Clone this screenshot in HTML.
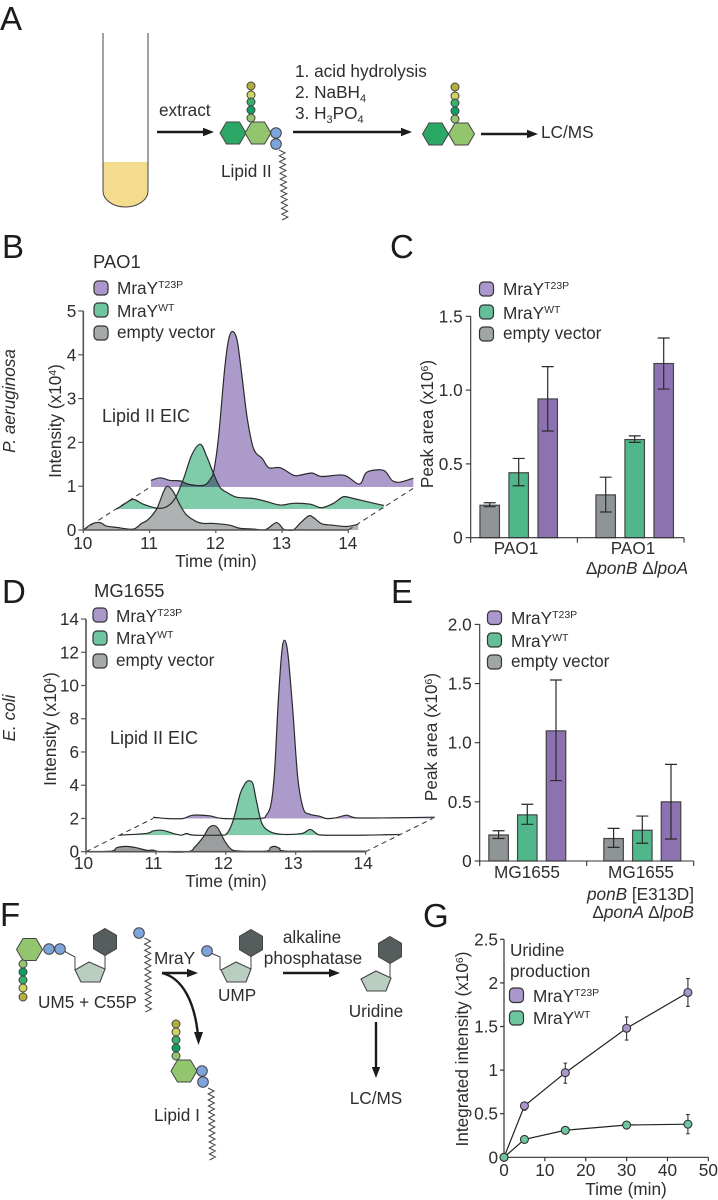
<!DOCTYPE html>
<html lang="en">
<head>
<meta charset="utf-8">
<title>Lipid II and uridine LC/MS figure</title>
<style>
html,body{margin:0;padding:0;background:#fff;}
body{width:718px;height:1200px;overflow:hidden;}
svg{display:block;font-family:"Liberation Sans",sans-serif;font-size:17.2px;fill:#2e2e2e;filter:blur(0.3px);}
.pl{font-size:33px;fill:#1c1c1c;}
.i{font-style:italic;}
.m{text-anchor:middle;}
</style>
</head>
<body>
<svg id="fig" width="718" height="1200" viewBox="0 0 718 1200" xmlns="http://www.w3.org/2000/svg">
  <g id="schem"></g>
  <g id="chartB"></g>
  <g id="chartD"></g>
  <g id="chartC"></g>
  <g id="chartE"></g>
  <g id="chartG"></g>

  <text class="pl" x="0" y="30">A</text>
  <text class="pl" x="2" y="258">B</text>
  <text class="pl" x="390" y="258">C</text>
  <text class="pl" x="2" y="603">D</text>
  <text class="pl" x="391" y="603">E</text>
  <text class="pl" x="0" y="926">F</text>
  <text class="pl" x="423" y="927">G</text>

  <text x="159" y="116">extract</text>
  <text x="221" y="177">Lipid II</text>
  <text x="295" y="77">1. acid hydrolysis</text>
  <text x="295" y="98">2. NaBH<tspan dy="4" font-size="11">4</tspan></text>
  <text x="295" y="119">3. H<tspan dy="4" font-size="11">3</tspan><tspan dy="-4">PO</tspan><tspan dy="4" font-size="11">4</tspan></text>
  <text x="541" y="138">LC/MS</text>

  <text x="93" y="268" font-size="18.4">PAO1</text>
  <g>
    <rect x="94" y="281" width="14" height="14" rx="4" fill="#ab97cc" stroke="#333" stroke-width="1.2"/>
    <rect x="94" y="303" width="14" height="14" rx="4" fill="#6ec6a0" stroke="#333" stroke-width="1.2"/>
    <rect x="94" y="326" width="14" height="14" rx="4" fill="#a5a9aa" stroke="#333" stroke-width="1.2"/>
    <text x="117" y="294">MraY<tspan dy="-6" font-size="10.5">T23P</tspan></text>
    <text x="117" y="317">MraY<tspan dy="-6" font-size="10.5">WT</tspan></text>
    <text x="117" y="338">empty vector</text>
  </g>
  <text x="102" y="422" font-size="18">Lipid II EIC</text>
  <text class="m" transform="translate(61,421) rotate(-90)">Intensity (x10<tspan dy="-5" font-size="10.5">4</tspan><tspan dy="5">)</tspan></text>
  <text class="m i" transform="translate(15,401) rotate(-90)">P. aeruginosa</text>
  <text class="m" x="216" y="567">Time (min)</text>

  <text x="94" y="597" font-size="18.4">MG1655</text>
  <g>
    <rect x="93" y="608" width="14" height="14" rx="4" fill="#ab97cc" stroke="#333" stroke-width="1.2"/>
    <rect x="93" y="631" width="14" height="14" rx="4" fill="#6ec6a0" stroke="#333" stroke-width="1.2"/>
    <rect x="93" y="654" width="14" height="14" rx="4" fill="#a5a9aa" stroke="#333" stroke-width="1.2"/>
    <text x="116" y="622">MraY<tspan dy="-6" font-size="10.5">T23P</tspan></text>
    <text x="116" y="644">MraY<tspan dy="-6" font-size="10.5">WT</tspan></text>
    <text x="116" y="666">empty vector</text>
  </g>
  <text x="110" y="744" font-size="18">Lipid II EIC</text>
  <text class="m" transform="translate(56,729) rotate(-90)">Intensity (x10<tspan dy="-5" font-size="10.5">4</tspan><tspan dy="5">)</tspan></text>
  <text class="m i" transform="translate(15,718) rotate(-90)">E. coli</text>
  <text class="m" x="226" y="887">Time (min)</text>

  <g>
    <rect x="479.5" y="282" width="14" height="14" rx="4" fill="#ab97cc" stroke="#333" stroke-width="1.2"/>
    <rect x="479.5" y="305" width="14" height="14" rx="4" fill="#63bf97" stroke="#333" stroke-width="1.2"/>
    <rect x="479.5" y="327" width="14" height="14" rx="4" fill="#a0a5a6" stroke="#333" stroke-width="1.2"/>
    <text x="503" y="295">MraY<tspan dy="-6" font-size="10.5">T23P</tspan></text>
    <text x="503" y="319">MraY<tspan dy="-6" font-size="10.5">WT</tspan></text>
    <text x="503" y="339">empty vector</text>
  </g>
  <text class="m" transform="translate(433,424) rotate(-90)">Peak area (x10<tspan dy="-5" font-size="10.5">6</tspan><tspan dy="5">)</tspan></text>
  <text class="m i" x="637" y="574"><tspan font-style="normal">Δ</tspan>ponB <tspan font-style="normal">Δ</tspan>lpoA</text>

  <g>
    <rect x="487.5" y="611" width="14" height="13.500" rx="4" fill="#ab97cc" stroke="#333" stroke-width="1.2"/>
    <rect x="487.5" y="633" width="14" height="14" rx="4" fill="#63bf97" stroke="#333" stroke-width="1.2"/>
    <rect x="487.5" y="655" width="14" height="14" rx="4" fill="#a0a5a6" stroke="#333" stroke-width="1.2"/>
    <text x="511" y="624">MraY<tspan dy="-6" font-size="10.5">T23P</tspan></text>
    <text x="511" y="647">MraY<tspan dy="-6" font-size="10.5">WT</tspan></text>
    <text x="511" y="667">empty vector</text>
  </g>
  <text class="m" transform="translate(437,737) rotate(-90)">Peak area (x10<tspan dy="-5" font-size="10.5">6</tspan><tspan dy="5">)</tspan></text>
  <text class="i" text-anchor="end" x="694" y="900">ponB <tspan font-style="normal">[E313D]</tspan></text>
  <text class="i" text-anchor="end" x="694" y="918"><tspan font-style="normal">Δ</tspan>ponA <tspan font-style="normal">Δ</tspan>lpoB</text>

  <text x="154" y="964">MraY</text>
  <text x="38" y="1008">UM5 + C55P</text>
  <text x="218" y="1001">UMP</text>
  <text class="m" x="312" y="943">alkaline</text>
  <text class="m" x="313" y="964">phosphatase</text>
  <text class="m" x="376" y="1017">Uridine</text>
  <text class="m" x="376" y="1104">LC/MS</text>
  <text x="154" y="1121">Lipid I</text>

  <text x="510" y="956">Uridine</text>
  <text x="510" y="977">production</text>
  <g>
    <rect x="509.5" y="988" width="14" height="14.500" rx="4" fill="#ab97cc" stroke="#333" stroke-width="1.2"/>
    <rect x="509.5" y="1011" width="14" height="14" rx="4" fill="#6ec6a0" stroke="#333" stroke-width="1.2"/>
    <text x="533" y="1002">MraY<tspan dy="-6" font-size="10.5">T23P</tspan></text>
    <text x="533" y="1024">MraY<tspan dy="-6" font-size="10.5">WT</tspan></text>
  </g>
  <text class="m" transform="translate(468,1049) rotate(-90)">Integrated intensity (x10<tspan dy="-5" font-size="10.5">6</tspan><tspan dy="5">)</tspan></text>
  <text class="m" x="626" y="1195">Time (min)</text>
</svg>

<script>
// ---------- Panel B data ----------
const bTimeTicks = [10, 11, 12, 13, 14];
const bIntensityTicks = [0, 1, 2, 3, 4, 5];
const bGrayTime = [10,10.13,10.25,10.35,10.5,10.75,10.88,10.98,11.11,11.21,11.27,11.36,11.46,11.56,11.71,11.81,11.96,12.21,12.36,12.57,12.72,12.79,12.92,13.02,13.07,13.17,13.27,13.4,13.47,13.6,13.77,13.97,14.15];
const bGrayIntensity = [0,.14,.17,.09,.06,.02,.15,.24,.49,.87,1,.87,.57,.34,.19,.15,.15,.11,.04,.02,0,.04,.17,.02,0,0,.15,.32,.29,.14,.11,.08,.13];
const bGreenTime = [10,10.13,10.25,10.4,10.6,10.75,10.88,11.01,11.13,11.26,11.36,11.46,11.56,11.66,11.81,12.06,12.26,12.47,12.67,12.92,13.09,13.27,13.42,13.57,13.77,14.03];
const bGreenIntensity = [0,.13,.22,.11,.02,.05,.24,.7,1.23,1.48,1.19,.81,.49,.38,.27,.24,.17,.09,.13,.11,.03,.13,.28,.24,.17,.08];
const bPurpleTime = [10.01,10.15,10.3,10.45,10.58,10.81,10.91,10.96,11.03,11.12,11.18,11.24,11.31,11.38,11.46,11.56,11.69,11.79,11.96,12.16,12.26,12.44,12.59,12.92,13.12,13.19,13.27,13.52,13.65,13.77,13.97];
const bPurpleIntensity = [.15,.21,.15,.14,.06,.04,.19,.38,1.14,2.66,3.35,3.55,3.35,2.58,1.6,.87,.65,.44,.44,.27,.27,.32,.24,.27,.08,.11,.34,.38,.15,.11,.2];

// ---------- Panel D data ----------
const dTimeTicks = [10, 11, 12, 13, 14];
const dIntensityTicks = [0, 2, 4, 6, 8, 10, 12, 14];
const dGrayTime = [10,10.37,10.44,10.58,10.72,10.87,10.96,11.06,11.46,11.56,11.68,11.75,11.82,11.89,11.99,12.08,12.2,12.58,12.64,12.7,12.77,12.85,13.54,14];
const dGrayIntensity = [0,.04,.24,.32,.24,.08,.1,0,0,.3,.9,1.4,1.58,1.4,.6,.14,.04,.04,.26,.32,.2,.04,.04,.04];
const dGreenTime = [10,10.38,10.48,10.62,10.76,10.88,10.95,11.05,11.43,11.53,11.62,11.72,11.79,11.84,11.9,11.95,12.03,12.15,12.34,12.6,12.72,12.81,12.91,13.53,14];
const dGreenIntensity = [0,.1,.26,.28,.1,0,.1,0,0,.1,.9,2.5,3.1,3.27,3.1,2.1,.7,.2,.04,.1,.34,.1,0,0,.04];
const dPurpleTime = [10,10.19,10.43,10.57,10.81,11,11.53,11.62,11.69,11.74,11.79,11.84,11.88,11.93,12,12.07,12.15,12.24,12.38,12.48,12.62,12.77,12.91,13.4,14.03];
const dPurpleIntensity = [.08,0,0,.2,.16,0,0,.2,.9,2.9,6.9,9.9,10.73,9.9,6.5,2.5,.6,.26,.14,0,.04,.2,.04,.04,.08];

// ---------- Panel C data ----------
const cGroups = ["PAO1", "PAO1"];
const cTicks = [0, 0.5, 1, 1.5];
const cTickLabels = ["0", "0.5", "1.0", "1.5"];
const cValues = [[.22,.29],[.44,.665],[.94,1.18]];
const cErrLow = [[.21,.174],[.352,.646],[.723,1.007]];
const cErrHigh = [[.237,.41],[.537,.69],[1.159,1.353]];

// ---------- Panel E data ----------
const eGroups = ["MG1655", "MG1655"];
const eTicks = [0, 0.5, 1, 1.5, 2];
const eTickLabels = ["0", "0.5", "1.0", "1.5", "2.0"];
const eValues = [[.22,.19],[.39,.26],[1.1,.5]];
const eErrLow = [[.19,.115],[.31,.15],[.68,.186]];
const eErrHigh = [[.256,.276],[.48,.38],[1.53,.817]];

// ---------- Panel G data ----------
const gXTicks = [0, 10, 20, 30, 40, 50];
const gYTicks = [0, 0.5, 1, 1.5, 2, 2.5];
const gYTickLabels = ["0", "0.5", "1", "1.5", "2", "2.5"];
const gTime = [0, 5, 15, 30, 45];
const gPurple = [0, .59, .97, 1.48, 1.89];
const gPurpleLow = [0, .54, .85, 1.345, 1.73];
const gPurpleHigh = [0, .63, 1.08, 1.61, 2.05];
const gGreen = [0, .205, .31, .37, .38];
const gGreenLow = [0, .19, .29, .35, .27];
const gGreenHigh = [0, .22, .33, .39, .49];

const NS = "http://www.w3.org/2000/svg";
function mk(parent, tag, attrs, txt) {
  const n = document.createElementNS(NS, tag);
  for (const k in attrs) n.setAttribute(k, attrs[k]);
  if (txt !== undefined) n.textContent = txt;
  parent.appendChild(n);
  return n;
}
function smooth(pts) {
  let d = "M" + pts[0][0].toFixed(2) + " " + pts[0][1].toFixed(2);
  for (let i = 0; i < pts.length - 1; i++) {
    const a = pts[Math.max(i - 1, 0)], b = pts[i], c = pts[i + 1], e = pts[Math.min(i + 2, pts.length - 1)];
    const t = 0.16;
    d += " C" + (b[0] + (c[0] - a[0]) * t).toFixed(2) + " " + (b[1] + (c[1] - a[1]) * t).toFixed(2) + " " +
      (c[0] - (e[0] - b[0]) * t).toFixed(2) + " " + (c[1] - (e[1] - b[1]) * t).toFixed(2) + " " +
      c[0].toFixed(2) + " " + c[1].toFixed(2);
  }
  return d;
}

// ---------- Chromatograms ----------
function chromatogram(root, id, x, y, xTicks, yTicks, xLabelPos, xLabelY, series, axisColor, dash) {
  let el;
  const fills = mk(root, "g", {});
  const lines = mk(root, "g", {});
  series.forEach(function (s) {
    const pts = s.time.map(function (t, i) { return [x(t) + s.dx, y(s.val[i]) - s.dy]; });
    const base = y(0) - s.dy;
    const f = smooth(pts) + " L" + pts[pts.length - 1][0].toFixed(2) + " " + base + " L" + pts[0][0].toFixed(2) + " " + base + " Z";
    el = mk(fills, "path", { d: f, fill: s.fill, style: s.blend ? "mix-blend-mode:multiply" : "" });
    
    
    el = mk(lines, "path", { d: smooth(pts), fill: "none", stroke: "#2b2b2b", "stroke-width": 1.2, "stroke-linejoin": "round" });
    
    
  });
  dash.forEach(function (t) {
    const top = series[0];
    el = mk(root, "line", { x1: x(t), y1: y(0), x2: x(t) + top.dx, y2: y(0) - top.dy, stroke: "#333", "stroke-width": 1, "stroke-dasharray": "5 4" });
    
    
  });
  const x0 = x(xTicks[0]), x1 = x(xTicks[xTicks.length - 1]);
  el = mk(root, "line", { x1: x0, y1: y(0), x2: x1, y2: y(0), stroke: axisColor, "stroke-width": 1.6 });
  
  
  el = mk(root, "line", { x1: x0, y1: y(yTicks[0]), x2: x0, y2: y(yTicks[yTicks.length - 1]), stroke: axisColor, "stroke-width": 1.6 });
  
  
  xTicks.forEach(function (t) {
    el = mk(root, "line", { x1: x(t), y1: y(0), x2: x(t), y2: y(0) + 3, stroke: axisColor, "stroke-width": 1.2 });
    
    
    el = mk(root, "text", { x: xLabelPos(t), y: xLabelY, "text-anchor": "middle" }, String(t));
    
    
  });
  yTicks.forEach(function (t) {
    el = mk(root, "line", { x1: x0 - 5, y1: y(t), x2: x0, y2: y(t), stroke: axisColor, "stroke-width": 1.2 });
    
    
    el = mk(root, "text", { x: x0 - 7, y: y(t) + 6, "text-anchor": "end" }, String(t));
    
    
  });
}
const xB = function (t) { return 83.3 + (t - 10) * 66.25; };
const yB = function (v) { return 530 - v * 43.8; };
chromatogram(document.getElementById("chartB"), "b", xB, yB, bTimeTicks, bIntensityTicks,
  function (t) { return xB(t) - 0.5; }, 549, [
    { name: "mray-t23p", time: bPurpleTime, val: bPurpleIntensity, dx: 67, dy: 43, fill: "#ac9aca" },
    { name: "mray-wt", time: bGreenTime, val: bGreenIntensity, dx: 33.5, dy: 21, fill: "#7fcbaa", blend: true },
    { name: "empty-vector", time: bGrayTime, val: bGrayIntensity, dx: 0, dy: 0, fill: "#aeb2b2" }
  ], "#555", [10, 14]);
const xD = function (t) { return 86 + (t - 10) * 69.9; };
const yD = function (v) { return 851.7 - v * 16.62; };
chromatogram(document.getElementById("chartD"), "d", xD, yD, dTimeTicks, dIntensityTicks,
  function (t) { return xD(t) - 2.5; }, 869, [
    { name: "mray-t23p", time: dPurpleTime, val: dPurpleIntensity, dx: 67, dy: 33.2, fill: "#ac9aca" },
    { name: "mray-wt", time: dGreenTime, val: dGreenIntensity, dx: 34, dy: 16.6, fill: "#7fcbaa", blend: true },
    { name: "empty-vector", time: dGrayTime, val: dGrayIntensity, dx: 0, dy: 0, fill: "#9a9e9f" }
  ], "#555", [10, 14]);

// ---------- Bar charts ----------
function barChart(root, id, y, xLeft, xRight, groupX, step, barW, groups, ticks, tickLabels, vals, lows, highs, labelY, labelRight) {
  let el;
  const colors = ["#8f9496", "#4fb78a", "#8d72b2"];
  const names = ["empty-vector", "mray-wt", "mray-t23p"];
  vals.forEach(function (row, s) {
    row.forEach(function (v, g) {
      const cx = groupX(g) + (s - 1) * step;
      el = mk(root, "rect", { x: cx - barW / 2, y: y(v), width: barW, height: y(0) - y(v), fill: colors[s], stroke: "#444", "stroke-width": 1.2 });
      
      
      el = mk(root, "path", { d: "M" + cx + " " + y(lows[s][g]) + " V" + y(highs[s][g]) + " M" + (cx - 6) + " " + y(lows[s][g]) + " H" + (cx + 6) + " M" + (cx - 6) + " " + y(highs[s][g]) + " H" + (cx + 6), fill: "none", stroke: "#2a2a2a", "stroke-width": 1.2 });
      
      
    });
  });
  el = mk(root, "line", { x1: xLeft, y1: y(0), x2: xRight, y2: y(0), stroke: "#333", "stroke-width": 1.1 });
  
  
  el = mk(root, "line", { x1: xLeft, y1: y(0) + 5, x2: xLeft, y2: y(ticks[ticks.length - 1]), stroke: "#333", "stroke-width": 1.1 });
  
  
  [(xLeft + xRight) / 2, xRight].forEach(function (px) {
    el = mk(root, "line", { x1: px, y1: y(0), x2: px, y2: y(0) + 5, stroke: "#333", "stroke-width": 1.1 });
    
    
  });
  ticks.forEach(function (t, i) {
    el = mk(root, "line", { x1: xLeft - 5, y1: y(t), x2: xLeft, y2: y(t), stroke: "#333", "stroke-width": 1.1 });
    
    
    el = mk(root, "text", { x: xLeft - 8, y: y(t) + 6, "text-anchor": "end" }, tickLabels[i]);
    
    
  });
  groups.forEach(function (g, i) {
    el = mk(root, "text", { x: labelRight(i), y: labelY, "text-anchor": "middle" }, g);
    
    
  });
}
const yC = function (v) { return 537.7 - v * 147.6; };
barChart(document.getElementById("chartC"), "c", yC, 470.7, 684, function (g) { return 518.7 + g * 116; }, 29, 19.5,
  cGroups, cTicks, cTickLabels, cValues, cErrLow, cErrHigh, 554, function (g) { return g ? 633 : 516; });
const yE = function (v) { return 861 - v * 118.3; };
barChart(document.getElementById("chartE"), "e", yE, 479.7, 693.7, function (g) { return 527.3 + g * 115; }, 28.7, 19.5,
  eGroups, eTicks, eTickLabels, eValues, eErrLow, eErrHigh, 878, function (g) { return g ? 641 : 527; });

// ---------- Line chart G ----------
(function () {
  let el;
  const root = document.getElementById("chartG");
  const x = function (t) { return 504 + t * 4.087; };
  const y = function (v) { return 1157.3 - v * 87.2; };
  el = mk(root, "line", { x1: x(0), y1: y(0), x2: x(50), y2: y(0), stroke: "#333", "stroke-width": 1.2 });
  
  
  el = mk(root, "line", { x1: x(0), y1: y(0), x2: x(0), y2: y(2.5), stroke: "#333", "stroke-width": 1.2 });
  
  
  gXTicks.forEach(function (t) {
    el = mk(root, "line", { x1: x(t), y1: y(0), x2: x(t), y2: y(0) + 4, stroke: "#333", "stroke-width": 1.2 });
    
    
    el = mk(root, "text", { x: x(t), y: 1176, "text-anchor": "middle" }, String(t));
    
    
  });
  gYTicks.forEach(function (t, i) {
    el = mk(root, "line", { x1: x(0) - 4, y1: y(t), x2: x(0), y2: y(t), stroke: "#333", "stroke-width": 1.2 });
    
    
    el = mk(root, "text", { x: x(0) - 6, y: y(t) + 6, "text-anchor": "end" }, gYTickLabels[i]);
    
    
  });
  [[gPurple, gPurpleLow, gPurpleHigh, "#ab97cc", "mray-t23p"], [gGreen, gGreenLow, gGreenHigh, "#6ec6a0", "mray-wt"]].forEach(function (s) {
    const pts = gTime.map(function (t, i) { return x(t) + "," + y(s[0][i]); }).join(" ");
    el = mk(root, "polyline", { points: pts, fill: "none", stroke: "#222", "stroke-width": 1.2 });
    
    
    gTime.forEach(function (t, i) {
      if (s[2][i] - s[1][i] > 0.06) {
        el = mk(root, "path", { d: "M" + x(t) + " " + y(s[1][i]) + " V" + y(s[2][i]) + " M" + (x(t) - 1.8) + " " + y(s[1][i]) + " H" + (x(t) + 1.8) + " M" + (x(t) - 1.8) + " " + y(s[2][i]) + " H" + (x(t) + 1.8), stroke: "#333", "stroke-width": 1.1, fill: "none" });
        
        
      }
      el = mk(root, "circle", { cx: x(t), cy: y(s[0][i]), r: 4, fill: s[3], stroke: "#333", "stroke-width": 1.1 });
      
      
    });
  });
})();

// ---------- Schematics ----------
(function () {
  let el;
  const root = document.getElementById("schem");
  const OL = "#b5ae3d", YG = "#cdd45f", MG = "#38b06b", DG = "#0c9f62", LG = "#93c46e", BL = "#7ea4dc", DH = "#555e5c", PE = "#b9cdc0", HD = "#2ba866";
  function hexFlat(cx, cy, fill, name) {
    const p = [[13, 0], [6.5, 11], [-6.5, 11], [-13, 0], [-6.5, -11], [6.5, -11]].map(function (q) { return (cx + q[0]) + "," + (cy + q[1]); }).join(" ");
    el = mk(root, "polygon", { points: p, fill: fill, stroke: "#444", "stroke-width": 1 });
    
    
  }
  function hexTall(cx, cy, name) {
    const p = [[0, -13.5], [11.5, -6.7], [11.5, 6.7], [0, 13.5], [-11.5, 6.7], [-11.5, -6.7]].map(function (q) { return (cx + q[0]) + "," + (cy + q[1]); }).join(" ");
    el = mk(root, "polygon", { points: p, fill: DH, stroke: "#444", "stroke-width": 1 });
    
    
  }
  function dot(cx, cy, r, fill, name) {
    el = mk(root, "circle", { cx: cx, cy: cy, r: r, fill: fill, stroke: "#444", "stroke-width": 1 });
    
    
  }
  function chain(cx, ys, cols, name) {
    ys.forEach(function (yy, i) { dot(cx, yy, 4, cols[i], name); });
  }
  function zig(x0, y0, x1, y1, n, name) {
    const pts = [];
    for (let i = 0; i <= n; i++) {
      const f = i / n;
      pts.push((x0 + (x1 - x0) * f + (i % 2 ? 3 : -3)) + "," + (y0 + (y1 - y0) * f));
    }
    el = mk(root, "polyline", { points: pts.join(" "), fill: "none", stroke: "#444", "stroke-width": 1 });
    
    
  }
  function arrow(x0, y0, x1, y1, name) {
    const L = Math.hypot(x1 - x0, y1 - y0), ux = (x1 - x0) / L, uy = (y1 - y0) / L;
    el = mk(root, "line", { x1: x0, y1: y0, x2: x1 - ux * 8, y2: y1 - uy * 8, stroke: "#1c1c1c", "stroke-width": 2.4 });
    
    
    const bx = x1 - ux * 11, by = y1 - uy * 11;
    el = mk(root, "polygon", { points: x1 + "," + y1 + " " + (bx - uy * 4.2) + "," + (by + ux * 4.2) + " " + (bx + uy * 4.2) + "," + (by - ux * 4.2), fill: "#1c1c1c" });
    
    
  }
  function stem(d, name) {
    el = mk(root, "path", { d: d, fill: "none", stroke: "#444", "stroke-width": 1 });
    
    
  }
  function penta(p, name) {
    el = mk(root, "polygon", { points: p, fill: PE, stroke: "#444", "stroke-width": 1.1 });
    
    
  }

  // Panel A
  el = mk(root, "path", { d: "M103 162 H148 V191 A22.500 16 0 0 1 103 191 Z", fill: "#f4dc8e" });
  
  
  el = mk(root, "path", { d: "M103 33 V191 A22.500 16 0 0 0 148 191 V33", fill: "none", stroke: "#444", "stroke-width": 1 });
  
  
  arrow(157, 132, 214, 132, "arrow-extract");
  zig(282, 150, 285, 220, 24, "lipid-tail-a");
  hexFlat(233, 133, HD, "glcnac-hexagon");
  hexFlat(258, 133, LG, "murnac-hexagon");
  chain(251, [86, 95, 102, 110, 118], [OL, YG, MG, DG, LG], "peptide-residue");
  dot(276, 133, 5.3, BL, "phosphate");
  dot(276, 144, 5.3, BL, "phosphate");
  arrow(293, 132, 412, 132, "arrow-processing");
  hexFlat(435.5, 134, HD, "glcnac-hexagon-product");
  hexFlat(461.5, 134, LG, "murnac-hexagon-product");
  chain(455, [87, 96, 103, 111, 119], [OL, YG, MG, DG, LG], "peptide-residue-product");
  arrow(481, 134, 538, 134, "arrow-lc-ms");

  // Panel F
  stem("M64 951 L75 957 V970", "um5-linker");
  stem("M105 955 V969", "uridine-stem");
  penta("89,962 75,970 81,982 100,982 105,969", "ribose-pentagon");
  hexTall(105, 942, "uracil-hexagon");
  hexFlat(29.5, 949.5, LG, "murnac-hexagon-f");
  chain(23, [964, 972, 980, 988, 997], [LG, DG, MG, YG, OL], "peptide-residue-f");
  dot(49, 949, 5.3, BL, "phosphate-f");
  dot(60, 949, 5.3, BL, "phosphate-f");
  zig(147.5, 938, 148.5, 1012, 24, "c55p-tail");
  dot(139, 933, 5.3, BL, "c55p-phosphate");
  arrow(162, 973, 198, 973, "arrow-mray-ump");
  el = mk(root, "path", { d: "M162 973 C183 978 195 1003 198 1036", fill: "none", stroke: "#1c1c1c", "stroke-width": 2.4 });
  
  
  el = mk(root, "polygon", { points: "198.5,1045 194,1032 203,1032", fill: "#1c1c1c" });
  
  
  stem("M211 953 L220 957 V970", "ump-linker");
  stem("M251 955 V969", "ump-stem");
  penta("236,962 221,970 227,982 246,982 251,969", "ump-ribose-pentagon");
  hexTall(251, 943, "ump-uracil-hexagon");
  dot(207, 951, 5.3, BL, "ump-phosphate");
  arrow(283, 973, 340, 973, "arrow-phosphatase");
  stem("M390 963 V978", "uridine-stem-product");
  penta("376,971 361,979 367,991 386,991 391,978", "uridine-ribose-pentagon");
  hexTall(390, 950, "uridine-uracil-hexagon");
  arrow(376, 1022, 376, 1078, "arrow-uridine-lc-ms");
  zig(211, 1088, 212.5, 1160, 24, "lipid-i-tail");
  chain(176, [1024, 1032, 1040, 1048, 1056], [OL, YG, MG, DG, LG], "peptide-residue-lipid-i");
  hexFlat(184, 1071, LG, "murnac-hexagon-lipid-i");
  dot(202, 1071, 5.3, BL, "phosphate-lipid-i");
  dot(203, 1082, 5.3, BL, "phosphate-lipid-i");
})();
</script>
</body>
</html>
